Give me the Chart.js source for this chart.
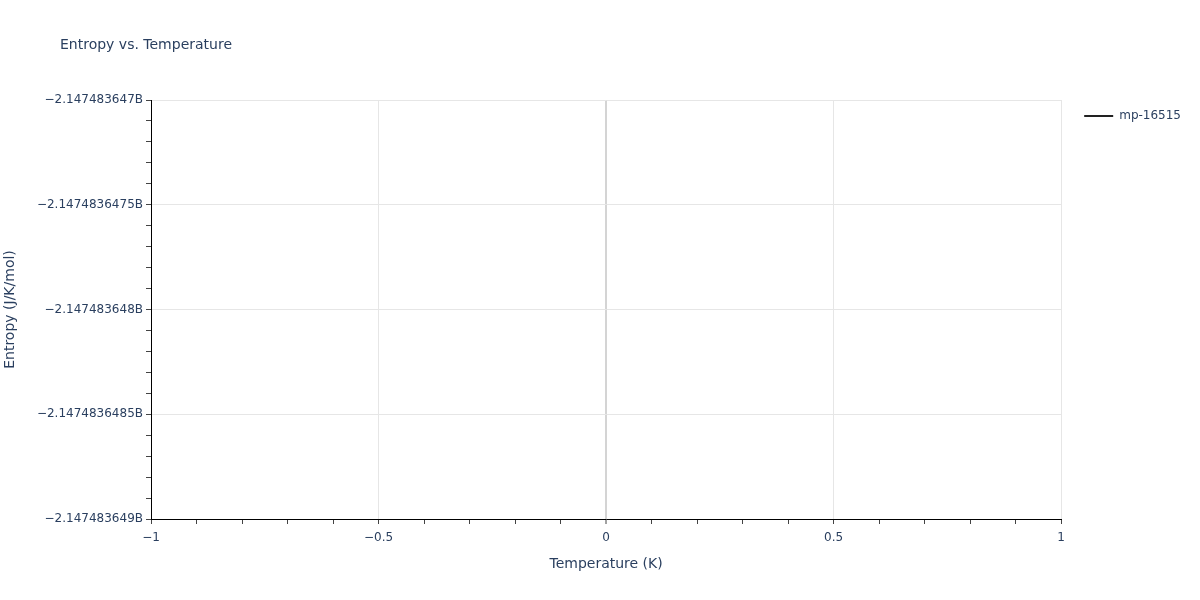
<!DOCTYPE html>
<html>
<head>
<meta charset="utf-8">
<script src="https://cdn.jsdelivr.net/npm/chart.js@4/dist/chart.umd.min.js"></script>
<style>
  html, body { margin: 0; padding: 0; background: #fff; }
  #wrap { width: 1200px; height: 600px; }
</style>
</head>
<body>
<div id="wrap"><canvas id="myChart" width="1200" height="600"></canvas></div>
<script>
// data: one point, so the line shows nothing
var seriesName = 'mp-16515';
var temperature = [0];
var entropy = [-2147483648];

// axis ticks
var xMajor = [-1, -0.5, 0, 0.5, 1];
var xLabels = ['\u22121', '\u22120.5', '0', '0.5', '1'];
var yMajor = [-2147483649, -2147483648.5, -2147483648, -2147483647.5, -2147483647];
var yLabels = ['\u22122.147483649B', '\u22122.1474836485B', '\u22122.147483648B', '\u22122.1474836475B', '\u22122.147483647B'];

var textColor = '#2a3f5f';
var fontFamily = '"DejaVu Sans", Verdana, sans-serif';

function withMinors(major, parts) {
    var out = [];
    for (var i = 0; i < major.length; i++) {
        out.push(major[i]);
        if (i < major.length - 1) {
            var step = (major[i + 1] - major[i]) / parts;
            for (var k = 1; k < parts; k++) {
                out.push(major[i] + step * k);
            }
        }
    }
    return out;
}

function majorIndex(list, v) {
    for (var i = 0; i < list.length; i++) {
        if (Math.abs(list[i] - v) < 1e-6) return i;
    }
    return -1;
}

var points = [];
for (var i = 0; i < temperature.length; i++) {
    points.push({ x: temperature[i], y: entropy[i] });
}

var titlePlugin = {
    id: 'plotTitle',
    afterLayout: function (chart) {
        // push the legend a little away from the plot, like plotly does
        if (chart.legend) {
            chart.legend.left += 13;
            chart.legend.right += 13;
        }
    },
    afterDraw: function (chart) {
        var c = chart.ctx;
        c.save();
        c.font = '14px ' + fontFamily;
        c.fillStyle = textColor;
        c.textBaseline = 'middle';
        c.textAlign = 'left';
        c.fillText('Entropy vs. Temperature', 60, 45);
        c.restore();
    }
};

var ctx = document.getElementById('myChart').getContext('2d');

var myChart = new Chart(ctx, {
    type: 'line',
    data: {
        datasets: [{
            label: seriesName,
            data: points,
            borderColor: '#222',
            backgroundColor: '#222',
            borderWidth: 2,
            pointRadius: 0,
            fill: false
        }]
    },
    options: {
        responsive: false,
        animation: false,
        layout: { padding: { top: 100, left: 0, right: 22, bottom: 27.6 } },
        plugins: {
            title: { display: false },
            tooltip: { enabled: false },
            legend: {
                position: 'right',
                align: 'start',
                labels: {
                    usePointStyle: true,
                    pointStyle: 'line',
                    pointStyleWidth: 29,
                    color: textColor,
                    font: { family: fontFamily, size: 12 },
                    padding: 10
                }
            }
        },
        scales: {
            x: {
                type: 'linear',
                min: -1,
                max: 1,
                afterBuildTicks: function (scale) {
                    scale.ticks = withMinors(xMajor, 5).map(function (v) { return { value: v }; });
                },
                ticks: {
                    autoSkip: false,
                    maxRotation: 0,
                    padding: 7,
                    color: textColor,
                    font: { family: fontFamily, size: 12 },
                    callback: function (value) {
                        var i = majorIndex(xMajor, value);
                        return i < 0 ? '' : xLabels[i];
                    }
                },
                grid: {
                    tickLength: 5,
                    color: function (c) {
                        var v = c.tick ? c.tick.value : null;
                        if (v === null || majorIndex(xMajor, v) < 0) return 'rgba(0,0,0,0)';
                        return Math.abs(v) < 1e-9 ? '#d4d4d4' : '#e6e6e6';
                    },
                    lineWidth: function (c) {
                        return c.tick && Math.abs(c.tick.value) < 1e-9 ? 2 : 1;
                    },
                    tickColor: '#444',
                    tickWidth: 1
                },
                border: { color: '#000', width: 1 },
                title: {
                    display: true,
                    text: 'Temperature (K)',
                    color: textColor,
                    font: { family: fontFamily, size: 14 },
                    padding: { top: 3.2, bottom: 0 }
                }
            },
            y: {
                type: 'linear',
                min: yMajor[0],
                max: yMajor[yMajor.length - 1],
                afterBuildTicks: function (scale) {
                    scale.ticks = withMinors(yMajor, 5).map(function (v) { return { value: v }; });
                },
                afterFit: function (scale) { scale.width = 151; },
                ticks: {
                    autoSkip: false,
                    padding: 3,
                    color: textColor,
                    font: { family: fontFamily, size: 12 },
                    callback: function (value) {
                        var i = majorIndex(yMajor, value);
                        return i < 0 ? '' : yLabels[i];
                    }
                },
                grid: {
                    tickLength: 5,
                    color: function (c) {
                        var v = c.tick ? c.tick.value : null;
                        if (v === null || majorIndex(yMajor, v) < 0) return 'rgba(0,0,0,0)';
                        return '#e6e6e6';
                    },
                    tickColor: '#444',
                    tickWidth: 1
                },
                border: { color: '#000', width: 1 },
                title: {
                    display: true,
                    text: 'Entropy (J/K/mol)',
                    color: textColor,
                    font: { family: fontFamily, size: 14 },
                    padding: { top: 2, bottom: 0 }
                }
            }
        }
    },
    plugins: [titlePlugin]
});
</script>
</body>
</html>
